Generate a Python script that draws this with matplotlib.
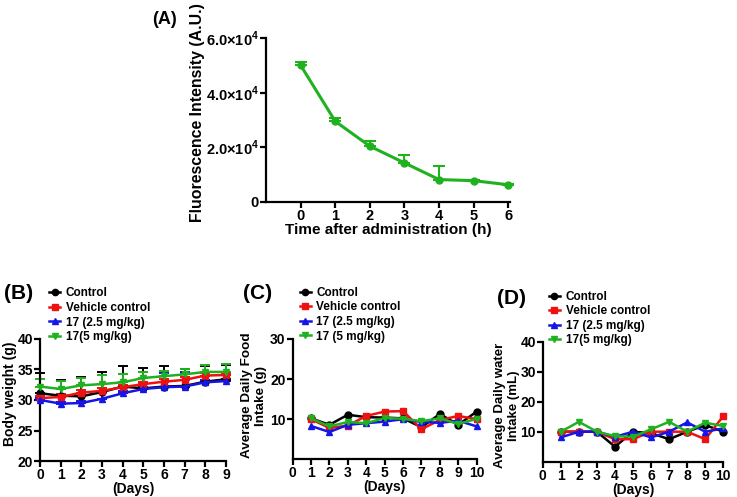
import matplotlib
matplotlib.use("Agg")
import matplotlib.pyplot as plt
import numpy as np

plt.rcParams['font.family'] = ['Liberation Sans', 'DejaVu Sans']
plt.rcParams['font.weight'] = 'bold'
plt.rcParams['mathtext.fontset'] = 'custom'
plt.rcParams['mathtext.rm'] = 'Liberation Sans:bold'
plt.rcParams['mathtext.bf'] = 'Liberation Sans:bold'

# ---------------- data ----------------
# (A) fluorescence
a_time = [0, 1, 2, 3, 4, 5, 6]
a_mean = [50000, 29500, 20400, 14300, 8200, 7800, 6300]
a_err = [1300, 1200, 2000, 3000, 5000, 400, 300]
a_yticks = [0, 20000, 40000, 60000]
a_yticklabels = ['0', r'$2.0{\times}10^{4}$', r'$4.0{\times}10^{4}$', r'$6.0{\times}10^{4}$']

# (B) body weight
b_days = [0, 1, 2, 3, 4, 5, 6, 7, 8, 9]
b_control = [31.1, 30.7, 30.6, 31.3, 32.2, 31.9, 32.2, 32.3, 33.0, 33.4]
b_vehicle = [30.3, 30.5, 31.2, 31.5, 32.1, 32.6, 33.0, 33.3, 34.0, 34.1]
b_low = [30.0, 29.4, 29.5, 30.2, 31.1, 31.8, 32.1, 32.2, 32.9, 33.1]
b_high = [32.2, 31.8, 32.4, 32.6, 32.9, 33.6, 33.9, 34.2, 34.6, 34.6]
b_control_err = [3.3, 2.6, 3.2, 3.3, 3.3, 3.4, 3.3, 2.7, 2.5, 2.3]
b_vehicle_err = [0.4, 0.4, 0.4, 0.4, 0.4, 0.4, 0.4, 0.4, 0.4, 0.4]
b_low_err = [0.3, 0.3, 0.3, 1.3, 0.3, 0.3, 2.4, 2.4, 0.3, 0.3]
b_high_err = [1.2, 1.3, 1.2, 1.5, 1.3, 1.0, 0.9, 0.8, 1.1, 1.3]

# (C) food intake
c_days = [1, 2, 3, 4, 5, 6, 7, 8, 9, 10]
c_control = [10.2, 8.6, 11.1, 10.5, 10.4, 10.2, 8.0, 11.3, 8.6, 11.9]
c_vehicle = [10.0, 7.8, 8.4, 10.8, 11.9, 12.0, 7.5, 9.8, 10.8, 10.0]
c_low = [8.3, 6.8, 8.6, 9.0, 9.4, 10.0, 9.3, 9.1, 9.6, 8.2]
c_high = [10.2, 8.2, 9.3, 9.0, 10.3, 10.1, 9.5, 10.2, 8.8, 10.1]

# (D) water intake
d_days = [1, 2, 3, 4, 5, 6, 7, 8, 9, 10]
d_control = [10.0, 10.0, 10.0, 5.0, 10.0, 9.5, 7.5, 10.0, 12.2, 10.0]
d_vehicle = [10.0, 10.0, 10.0, 7.5, 7.5, 10.0, 10.0, 10.0, 7.5, 15.2]
d_low = [8.1, 10.0, 10.0, 8.3, 10.0, 8.1, 10.0, 13.1, 10.0, 11.1]
d_high = [10.0, 13.3, 10.0, 8.5, 8.3, 10.8, 13.3, 10.0, 13.0, 11.9]

labels_b = ['Control', 'Vehicle control', '17 (2.5 mg/kg)', '17(5 mg/kg)']
labels_c = ['Control', 'Vehicle control', '17 (2.5 mg/kg)', '17 (5 mg/kg)']
labels_d = ['Control', 'Vehicle control', '17 (2.5 mg/kg)', '17(5 mg/kg)']

BLACK = '#000000'
RED = '#EE1111'
BLUE = '#1515E6'
GREEN = '#1FB11F'
colors = [BLACK, RED, BLUE, GREEN]
markers = ['o', 's', '^', 'v']

fig = plt.figure(figsize=(7.37, 4.97), dpi=100)


def style_axes(ax, fs=10):
    for s in ['top', 'right']:
        ax.spines[s].set_visible(False)
    for s in ['left', 'bottom']:
        ax.spines[s].set_linewidth(1.6)
    ax.tick_params(width=1.6, length=4, labelsize=fs, pad=1)
    for t in ax.get_xticklabels() + ax.get_yticklabels():
        t.set_fontweight('bold')


# ---------- (A) ----------
axA = fig.add_axes([0.361, 0.5936, 0.331, 0.33])
axA.plot(a_time, a_mean, color=GREEN, lw=2.2, marker='o', ms=5, clip_on=False, zorder=3)
axA.errorbar(a_time, a_mean, yerr=[np.zeros(len(a_err)), a_err], fmt='none',
             ecolor=GREEN, elinewidth=1.5, capsize=4, capthick=1.5, clip_on=False)
axA.set_xlim(-1, 6.05)
axA.set_ylim(0, 60000)
axA.set_xticks(a_time)
axA.set_yticks(a_yticks)
axA.set_yticklabels(a_yticklabels)
style_axes(axA, fs=10.5)
axA.set_xlabel('Time after administration (h)', fontsize=11, fontweight='bold', labelpad=0)
axA.set_ylabel('Fluorescence Intensity (A.U.)', fontsize=11.4, fontweight='bold')
axA.yaxis.set_label_coords(-0.249, 0.545)
fig.text(0.207, 0.96, '(A)', fontsize=13, fontweight='bold', ha='left', va='center')


def series_plot(ax, x, ys, errs=None):
    hs = []
    for i, y in enumerate(ys):
        h, = ax.plot(x, y, color=colors[i], lw=1.8, marker=markers[i], ms=5,
                     clip_on=False, zorder=3 + i * 0.1)
        hs.append(h)
        if errs is not None:
            ax.errorbar(x, y, yerr=[np.zeros(len(errs[i])), errs[i]], fmt='none',
                        ecolor=colors[i], elinewidth=1.4, capsize=3.5, capthick=1.4,
                        clip_on=False, zorder=2 + i * 0.1)
    return hs


def add_legend(ax, hs, labels, x0, y0):
    ax.legend(hs, labels, loc='lower left', bbox_to_anchor=(x0, y0), frameon=False,
              handlelength=0.9, handletextpad=0.5, borderaxespad=0, borderpad=0,
              labelspacing=0.22, prop={'weight': 'bold', 'size': 8.5}, markerscale=0.9)


# ---------- (B) ----------
axB = fig.add_axes([0.0543, 0.0724, 0.2523, 0.2456])
hsB = series_plot(axB, b_days, [b_control, b_vehicle, b_low, b_high],
                  [b_control_err, b_vehicle_err, b_low_err, b_high_err])
axB.set_xlim(0, 9)
axB.set_ylim(20, 40)
axB.set_xticks(b_days)
axB.set_yticks([20, 25, 30, 35, 40])
style_axes(axB)
axB.set_xlabel('(Days)', fontsize=10, fontweight='bold', labelpad=0)
axB.set_ylabel('Body weight (g)', fontsize=10, fontweight='bold')
axB.yaxis.set_label_coords(-0.124, 0.55)
add_legend(axB, hsB, labels_b, 0.05, 0.965)
fig.text(0.005, 0.41, '(B)', fontsize=15, fontweight='bold', ha='left', va='center')

# ---------- (C) ----------
axC = fig.add_axes([0.397, 0.0759, 0.2498, 0.2421])
hsC = series_plot(axC, c_days, [c_control, c_vehicle, c_low, c_high])
axC.set_xlim(0, 10)
axC.set_ylim(0, 30)
axC.set_xticks(range(0, 11))
axC.set_yticks([10, 20, 30])
style_axes(axC)
axC.set_xlabel('(Days)', fontsize=10, fontweight='bold', labelpad=0)
axC.set_ylabel('Average Daily Food\nIntake (g)', fontsize=9.7, fontweight='bold')
axC.yaxis.set_label_coords(-0.14, 0.53)
add_legend(axC, hsC, labels_c, 0.04, 0.97)
fig.text(0.330, 0.41, '(C)', fontsize=15, fontweight='bold', ha='left', va='center')

# ---------- (D) ----------
axD = fig.add_axes([0.7364, 0.071, 0.245, 0.2415])
hsD = series_plot(axD, d_days, [d_control, d_vehicle, d_low, d_high])
axD.set_xlim(0, 10)
axD.set_ylim(0, 40)
axD.set_xticks(range(0, 11))
axD.set_yticks([10, 20, 30, 40])
style_axes(axD)
axD.set_xlabel('(Days)', fontsize=10, fontweight='bold', labelpad=0)
axD.set_ylabel('Average Daily water\nIntake (mL)', fontsize=9.5, fontweight='bold')
axD.yaxis.set_label_coords(-0.126, 0.47)
add_legend(axD, hsD, labels_d, 0.035, 0.96)
fig.text(0.674, 0.40, '(D)', fontsize=15, fontweight='bold', ha='left', va='center')

fig.savefig('out.png', dpi=100)
